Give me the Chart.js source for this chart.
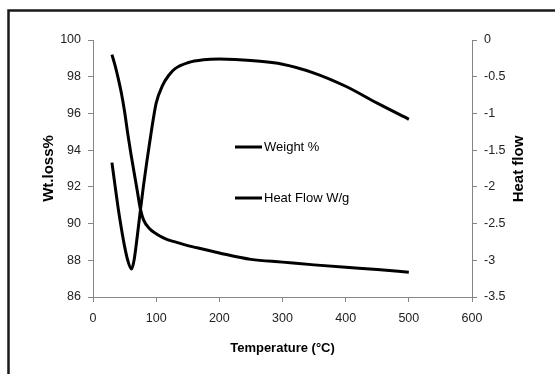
<!DOCTYPE html>
<html>
<head>
<meta charset="utf-8">
<script src="https://cdn.jsdelivr.net/npm/chart.js@4"></script>
<style>
  html, body { margin: 0; padding: 0; background: #fff; }
  canvas { display: block; }
</style>
</head>
<body>
<canvas id="tgaChart" width="555" height="374"></canvas>
<script>
// TGA / DSC run: weight % on the left axis, heat flow on the right axis
const weightTemp = [30, 35, 40, 45, 50, 55, 60, 65, 70, 75, 80, 90, 100, 110, 120, 130, 150, 175, 200, 250, 300, 350, 400, 450, 500];
const weightPct  = [99.2, 98.6, 97.9, 97.1, 96.1, 94.9, 93.8, 92.8, 91.8, 90.8, 90.2, 89.7, 89.45, 89.25, 89.1, 89.0, 88.8, 88.6, 88.4, 88.05, 87.9, 87.75, 87.62, 87.5, 87.35];

const heatTemp = [30, 35, 40, 45, 50, 55, 61, 65, 70, 75, 80, 85, 90, 95, 100, 110, 120, 130, 150, 175, 200, 225, 250, 300, 350, 400, 450, 500];
const heatFlow = [-1.67, -1.99, -2.3, -2.57, -2.81, -3.0, -3.12, -3.0, -2.68, -2.32, -1.98, -1.67, -1.38, -1.1, -0.86, -0.62, -0.48, -0.39, -0.31, -0.27, -0.26, -0.265, -0.28, -0.33, -0.45, -0.63, -0.86, -1.08];

const xTicks = { min: 0, max: 600, step: 100 };
const leftTicks = { min: 86, max: 100, step: 2 };
const rightTicks = { min: -3.5, max: 0, step: 0.5 };

const axisGray = '#868686';
const sans = '"Liberation Sans", Arial, sans-serif';
const tickFont = { family: sans, size: 12.5 };

const toPoints = (xs, ys) => xs.map((x, i) => ({ x: x, y: ys[i] }));

// frame, rotated right-axis title and the in-plot legend
const extras = {
    id: 'extras',
    afterDraw(chart) {
        const ctx = chart.ctx;
        ctx.save();
        ctx.strokeStyle = '#1a1a1a';
        ctx.lineWidth = 2.5;
        ctx.strokeRect(8.5, 10.5, 600, 400);

        ctx.fillStyle = '#000';
        ctx.font = 'bold 15px ' + sans;
        ctx.textAlign = 'center';
        ctx.textBaseline = 'middle';
        ctx.translate(519, 169);
        ctx.rotate(-Math.PI / 2);
        ctx.fillText('Heat flow', 0, 0);
        ctx.setTransform(1, 0, 0, 1, 0, 0);

        const rows = [147, 198];
        ctx.font = '13px ' + sans;
        ctx.textAlign = 'left';
        chart.data.datasets.forEach((ds, i) => {
            const y = rows[i];
            ctx.strokeStyle = ds.borderColor;
            ctx.lineWidth = 3;
            ctx.beginPath();
            ctx.moveTo(235, y);
            ctx.lineTo(262, y);
            ctx.stroke();
            ctx.fillText(ds.label, 264, y);
        });
        ctx.restore();
    }
};

new Chart(document.getElementById('tgaChart'), {
    type: 'line',
    data: {
        datasets: [{
            label: 'Weight %',
            data: toPoints(weightTemp, weightPct),
            yAxisID: 'y',
            borderColor: '#000',
            borderWidth: 3,
            pointRadius: 0,
            tension: 0.4,
            cubicInterpolationMode: 'monotone',
        }, {
            label: 'Heat Flow W/g',
            data: toPoints(heatTemp, heatFlow),
            yAxisID: 'y2',
            borderColor: '#000',
            borderWidth: 3,
            pointRadius: 0,
            tension: 0.4,
            cubicInterpolationMode: 'monotone',
        }]
    },
    options: {
        responsive: false,
        animation: false,
        layout: { padding: { top: 40, left: 0, right: 0, bottom: 0 } },
        plugins: {
            legend: { display: false },
            tooltip: { enabled: false },
        },
        scales: {
            x: {
                type: 'linear',
                min: xTicks.min,
                max: xTicks.max,
                afterFit: s => { s.height = 77; },
                grid: { drawOnChartArea: false, color: axisGray, tickLength: 5 },
                border: { color: axisGray },
                ticks: { stepSize: xTicks.step, color: '#222', padding: 9, font: tickFont },
                title: {
                    display: true,
                    text: 'Temperature (°C)',
                    color: '#000',
                    font: { family: sans, size: 13, weight: 'bold' },
                    padding: { top: 0, bottom: 18 },
                },
            },
            y: {
                position: 'left',
                min: leftTicks.min,
                max: leftTicks.max,
                afterFit: s => { s.width = 93; },
                grid: { drawOnChartArea: false, color: axisGray, tickLength: 5 },
                border: { color: axisGray },
                ticks: { stepSize: leftTicks.step, color: '#222', padding: 7, font: tickFont },
                title: {
                    display: true,
                    text: 'Wt.loss%',
                    color: '#000',
                    font: { family: sans, size: 15, weight: 'bold' },
                    padding: { top: 40, bottom: 0 },
                },
            },
            y2: {
                position: 'right',
                min: rightTicks.min,
                max: rightTicks.max,
                afterFit: s => { s.width = 83; },
                grid: { drawOnChartArea: false, color: axisGray, tickLength: 5 },
                border: { color: axisGray },
                ticks: {
                    stepSize: rightTicks.step,
                    color: '#222',
                    padding: 7,
                    font: tickFont,
                    callback: v => String(Number(v)),
                },
            },
        },
    },
    plugins: [extras],
});
</script>
</body>
</html>
